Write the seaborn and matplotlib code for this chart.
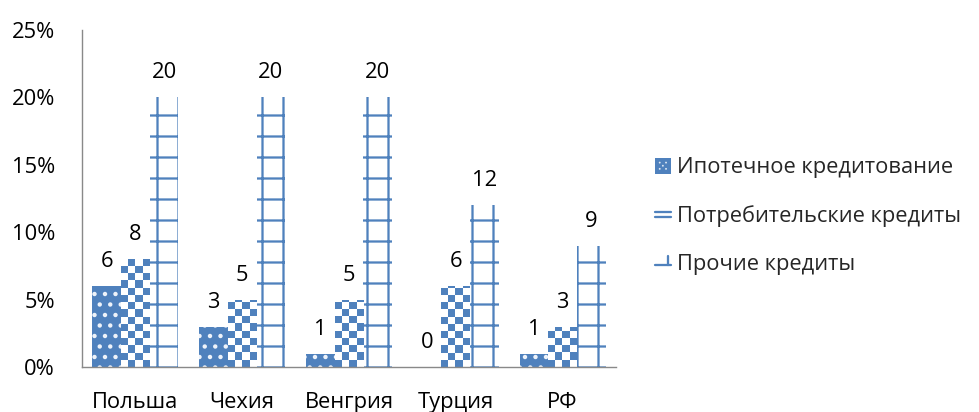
import numpy as np
import pandas as pd
import matplotlib
matplotlib.use("Agg")
import matplotlib.pyplot as plt
from matplotlib.colors import ListedColormap
from matplotlib.patches import Rectangle, Circle
from matplotlib.lines import Line2D
import seaborn as sns

# ---- data -------------------------------------------------------------
countries = ["Польша", "Чехия", "Венгрия", "Турция", "РФ"]
series_names = ["Ипотечное кредитование", "Потребительские кредиты", "Прочие кредиты"]
mortgage = [6, 3, 1, 0, 1]
consumer = [8, 5, 5, 6, 3]
other = [20, 20, 20, 12, 9]
y_ticks = [0, 5, 10, 15, 20, 25]
y_tick_labels = ["0%", "5%", "10%", "15%", "20%", "25%"]

df = pd.DataFrame({
    "country": countries * 3,
    "value": mortgage + consumer + other,
    "type": [series_names[0]] * 5 + [series_names[1]] * 5 + [series_names[2]] * 5,
})

# ---- style ------------------------------------------------------------
BLUE = "#4F81BD"
DPI = 126
sns.set_theme(style="white")
plt.rcParams["font.family"] = ["Open Sans", "DejaVu Sans"]
plt.rcParams["hatch.linewidth"] = 1.3
FS = 12.5

fig = plt.figure(figsize=(979 / DPI, 412 / DPI), dpi=DPI)
ax = fig.add_axes([82 / 979, 45 / 412, 534 / 979, 337 / 412])

sns.barplot(data=df, x="country", y="value", hue="type", hue_order=series_names,
            order=countries, palette=[BLUE, "white", "white"], saturation=1,
            width=0.806, legend=False, ax=ax)

XLIM = (-0.5, len(countries) - 0.5)
YLIM = (0, 25)
ax.set_xlim(*XLIM)
ax.set_ylim(*YLIM)

c_mort, c_cons, c_other = ax.containers[:3]

# dotted fill for mortgage bars
for bar in c_mort:
    bar.set_facecolor(BLUE)
    bar.set_edgecolor("#eef3fa")
    bar.set_linewidth(0)
    bar.set_hatch("..")

# large grid for the "other" bars
for bar in c_other:
    bar.set_facecolor("white")
    bar.set_edgecolor(BLUE)
    bar.set_linewidth(0)
    bar.set_hatch("+")

# checkerboard for consumer bars, drawn as a clipped image inside each bar
cell = 7.2
checker_cmap = ListedColormap(["white", BLUE])
for bar in c_cons:
    bar.set_facecolor("white")
    bar.set_linewidth(0)
    x0, w, h = bar.get_x(), bar.get_width(), bar.get_height()
    if h <= 0:
        continue
    px0, py0 = ax.transData.transform((x0, 0))
    px1, py1 = ax.transData.transform((x0 + w, h))
    nx = max(1, int(round((px1 - px0) / cell)))
    ch = cell * h / (py1 - py0)
    ny = int(np.ceil(h / ch))
    grid = np.add.outer(np.arange(ny), np.arange(nx)) % 2
    im = ax.imshow(grid[::-1], cmap=checker_cmap, vmin=0, vmax=1,
                   extent=(x0, x0 + w, 0, ny * ch), origin="lower",
                   aspect="auto", interpolation="nearest",
                   zorder=bar.get_zorder() + 0.1)
    im.set_clip_path(bar)

ax.set_xlim(*XLIM)
ax.set_ylim(*YLIM)

# value labels
for cont in (c_mort, c_cons, c_other):
    ax.bar_label(cont, fmt="%g", padding=8, fontsize=FS, color="black")

# axes
ax.set_yticks(y_ticks)
ax.set_yticklabels(y_tick_labels)
ax.set_xlabel("")
ax.set_ylabel("")
ax.tick_params(axis="y", length=0, pad=15.4, labelsize=FS, labelcolor="black")
ax.tick_params(axis="x", length=0, pad=14.5, labelsize=FS, labelcolor="black")
for side in ("top", "right"):
    ax.spines[side].set_visible(False)
for side in ("left", "bottom"):
    ax.spines[side].set_color("#898989")
    ax.spines[side].set_linewidth(0.8)
ax.grid(False)


# legend keys with small pattern swatches
class KeyHandler:
    def __init__(self, kind):
        self.kind = kind

    def legend_artist(self, legend, orig_handle, fontsize, handlebox):
        x0, y0 = -handlebox.xdescent, -handlebox.ydescent
        w, h = handlebox.width, handlebox.height
        tr = handlebox.get_transform()
        arts = []
        if self.kind == "dots":
            arts.append(Rectangle((x0, y0), w, h, facecolor=BLUE, edgecolor="none", transform=tr))
            for fx, fy in [(0.3, 0.3), (0.7, 0.3), (0.3, 0.7), (0.7, 0.7), (0.5, 0.5)]:
                arts.append(Circle((x0 + fx * w, y0 + fy * h), 0.06 * w,
                                   facecolor="#dfe8f3", edgecolor="none", transform=tr))
        elif self.kind == "lines":
            for fy in (0.35, 0.62):
                arts.append(Line2D([x0, x0 + w], [y0 + fy * h] * 2, color=BLUE, lw=1.3, transform=tr))
        else:
            arts.append(Line2D([x0, x0 + w], [y0 + 0.3 * h] * 2, color=BLUE, lw=1.3, transform=tr))
            arts.append(Line2D([x0 + 0.8 * w] * 2, [y0 + 0.3 * h, y0 + 0.9 * h], color=BLUE, lw=1.3, transform=tr))
        for a in arts:
            handlebox.add_artist(a)
        return arts[0]


handles = [Rectangle((0, 0), 1, 1) for _ in series_names]
kinds = ["dots", "lines", "corner"]
fig.legend(handles, series_names, loc="center left",
           bbox_to_anchor=(655 / 979, 1 - 216 / 412), bbox_transform=fig.transFigure,
           frameon=False, fontsize=FS, borderpad=0, borderaxespad=0,
           handlelength=0.72, handleheight=0.72, handletextpad=0.3, labelspacing=1.22,
           handler_map={h: KeyHandler(k) for h, k in zip(handles, kinds)})

fig.savefig("out.png", dpi=DPI)
